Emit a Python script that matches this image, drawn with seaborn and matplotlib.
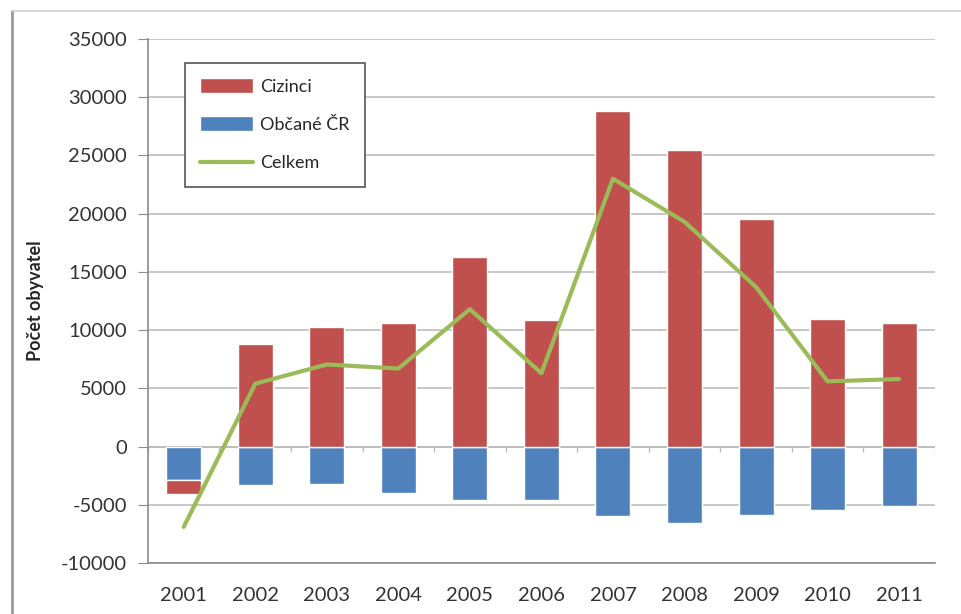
import numpy as np
import pandas as pd
import matplotlib
matplotlib.use('Agg')
import matplotlib.pyplot as plt
from matplotlib.lines import Line2D
import seaborn as sns

# data
years = ['2001', '2002', '2003', '2004', '2005', '2006', '2007', '2008', '2009', '2010', '2011']
cizinci = [-1150, 8800, 10250, 10600, 16300, 10850, 28800, 25500, 19500, 10950, 10600]
obcane = [-2900, -3280, -3200, -3970, -4570, -4570, -5950, -6550, -5850, -5430, -5100]
celkem = [-6900, 5400, 7050, 6700, 11800, 6300, 23000, 19300, 13700, 5600, 5800]
y_ticks = [-10000, -5000, 0, 5000, 10000, 15000, 20000, 25000, 30000, 35000]

red = '#C0504D'
blue = '#4F81BD'
green = '#9BBB59'
grid_col = '#BDBDBD'

sns.set_style('white')
plt.rcParams['font.family'] = ['Lato', 'DejaVu Sans']
plt.rcParams['axes.unicode_minus'] = False

df = pd.DataFrame({'rok': years, 'cizinci': cizinci, 'obcane': obcane, 'celkem': celkem})
# negative foreigners are stacked below the citizens bar (as in Excel)
df['spodek'] = np.where(df['cizinci'] < 0, df['obcane'], 0)

fig = plt.figure(figsize=(9.62, 6.14), dpi=100)
ax = fig.add_axes([0.1538, 0.083, 0.818, 0.8535])

sns.barplot(data=df, x='rok', y='obcane', color=blue, width=0.49, saturation=1,
            ax=ax, label='Občané ČR', zorder=2)
sns.barplot(data=df, x='rok', y='cizinci', bottom=df['spodek'], color=red, width=0.49,
            saturation=1, ax=ax, label='Cizinci', zorder=2)
sns.lineplot(x=np.arange(len(years)), y=df['celkem'], color=green, linewidth=3,
             ax=ax, label='Celkem', zorder=3)

ax.set_ylim(-10000, 35000)
ax.set_xlim(-0.5, len(years) - 0.5)
ax.set_yticks(y_ticks)
ax.yaxis.grid(True, color=grid_col, linewidth=1.2)
ax.set_axisbelow(True)

# category axis line at zero with little separators
ax.axhline(0, color=grid_col, linewidth=1.2, zorder=1)
ax.vlines(np.arange(len(years) + 1) - 0.5, -450, 0, color=grid_col, linewidth=1, zorder=1)

for s in ['top', 'right']:
    ax.spines[s].set_visible(False)
for s in ['left', 'bottom']:
    ax.spines[s].set_color('#8C8C8C')
    ax.spines[s].set_linewidth(1.2)

ax.tick_params(axis='y', left=True, length=7, color='#8C8C8C', labelsize=14.5, pad=8, labelcolor='#333333')
ax.tick_params(axis='x', bottom=False, labelsize=14.5, pad=14, labelcolor='#333333')
ax.set_xlabel('')
ax.set_ylabel('Počet obyvatel', fontsize=13, fontweight='bold', labelpad=12)

handles, labels = ax.get_legend_handles_labels()
order = [labels.index('Cizinci'), labels.index('Občané ČR'), labels.index('Celkem')]
leg = ax.legend([handles[i] for i in order], [labels[i] for i in order],
                loc='upper left', bbox_to_anchor=(0.047, 0.955), fontsize=13,
                frameon=True, fancybox=False, edgecolor='#555555', framealpha=1,
                handlelength=2.9, handleheight=0.9, labelspacing=1.2,
                handletextpad=0.4, borderpad=0.85, borderaxespad=0)
leg.get_frame().set_linewidth(1.2)

# outer chart frame (partially visible in the picture)
fig.add_artist(Line2D([0.012, 0.012], [0.0, 0.982], color='#9A9A9A', linewidth=2))
fig.add_artist(Line2D([0.012, 1.0], [0.982, 0.982], color='#CFCFCF', linewidth=1.2))

fig.savefig('out.png', dpi=100)
